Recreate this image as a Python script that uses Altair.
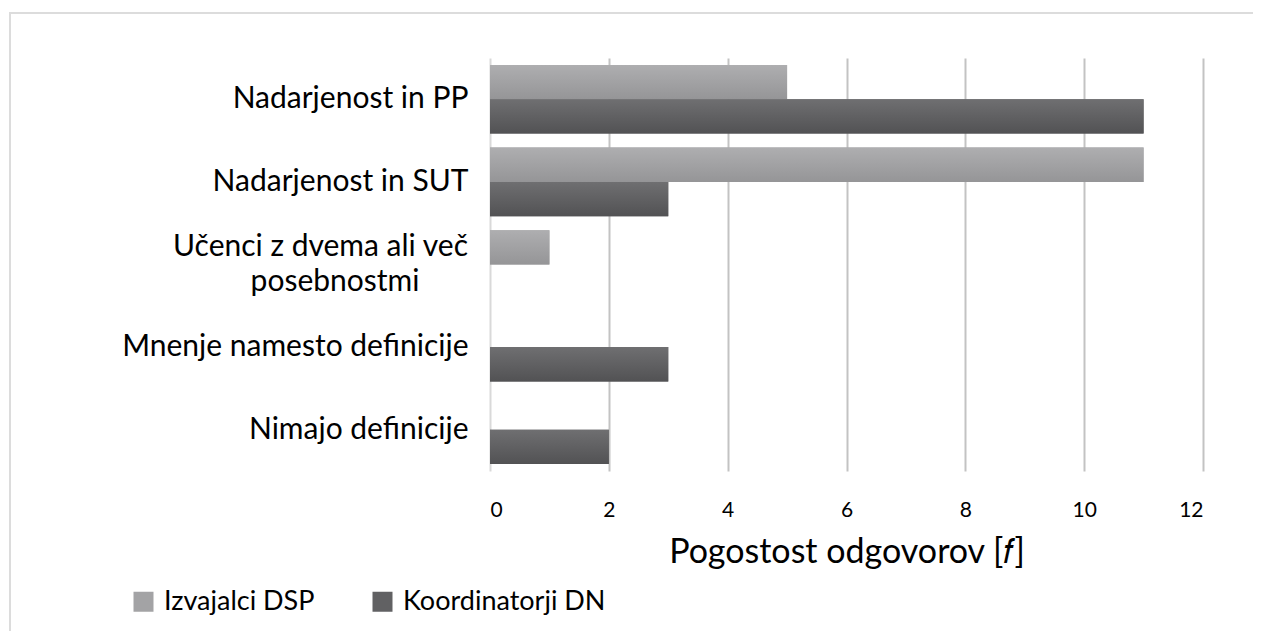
import altair as alt
import pandas as pd

categories = [
    "Nadarjenost in PP",
    "Nadarjenost in SUT",
    "Učenci z dvema ali več posebnostmi",
    "Mnenje namesto definicije",
    "Nimajo definicije",
]
label_line1 = "Učenci z dvema ali več"
label_line2 = "posebnostmi"
series = ["Izvajalci DSP", "Koordinatorji DN"]
izvajalci = [5, 11, 1, 0, 0]
koordinatorji = [11, 3, 0, 3, 2]
x_ticks = [0, 2, 4, 6, 8, 10, 12]
x_title = "Pogostost odgovorov [𝑓]"

df = pd.DataFrame({
    "Kategorija": categories * 2,
    "Skupina": [series[0]] * len(categories) + [series[1]] * len(categories),
    "Vrednost": izvajalci + koordinatorji,
})
df_line1 = pd.DataFrame({"Kategorija": [categories[2]], "Tekst": [label_line1]})
df_line2 = pd.DataFrame({"Kategorija": [categories[2]], "Tekst": [label_line2]})

FONT = "Lato"
CAT_SIZE = 30
label_expr = "datum.label == '" + categories[2] + "' ? '' : datum.label"

x_enc = alt.X(
    "Vrednost:Q",
    scale=alt.Scale(domain=[0, 12], nice=False),
    axis=alt.Axis(
        values=x_ticks, grid=True,
        gridColor=alt.condition("datum.value == 0", alt.value("#d9d9d9"), alt.value("#c3c3c3")),
        gridWidth=2, domain=False, ticks=False,
        labelFont=FONT, labelFontSize=21, labelColor="#000000", labelPadding=28,
        title=x_title, titleFont=FONT, titleFontSize=34, titleFontWeight="normal",
        titleColor="#000000", titlePadding=15,
    ),
)
y_enc = alt.Y(
    "Kategorija:N", sort=categories,
    scale=alt.Scale(paddingInner=0.17, paddingOuter=0.085),
    axis=alt.Axis(
        title=None, domain=False, ticks=False, grid=False,
        labelFont=FONT, labelFontSize=CAT_SIZE, labelColor="#000000",
        labelPadding=22, labelLimit=480,
        labelExpr=label_expr,
    ),
)

base = alt.Chart(df).encode(
    x=x_enc,
    y=y_enc,
    yOffset=alt.YOffset("Skupina:N", sort=series,
                        scale=alt.Scale(paddingInner=0, paddingOuter=0)),
)

legend_layer = base.mark_bar().encode(
    color=alt.Color(
        "Skupina:N",
        scale=alt.Scale(domain=series, range=["#a3a3a5", "#616163"]),
        legend=alt.Legend(
            title=None, orient="none", direction="horizontal",
            legendX=-360, legendY=530,
            symbolType="square", symbolSize=400, symbolStrokeWidth=0,
            labelFont=FONT, labelFontSize=27, labelColor="#000000",
            labelOffset=7, columnPadding=54, labelLimit=400,
        ),
    )
)


def grad(top, bottom):
    return alt.LinearGradient(
        gradient="linear", x1=0, y1=0, x2=0, y2=1,
        stops=[alt.GradientStop(offset=0, color=top),
               alt.GradientStop(offset=1, color=bottom)],
    )


layer_a = base.mark_bar(color=grad("#aeaeb0", "#959597")).transform_filter(
    alt.datum.Skupina == series[0])
layer_b = base.mark_bar(color=grad("#6f6f71", "#525254")).transform_filter(
    alt.datum.Skupina == series[1])

line1_layer = alt.Chart(df_line1).mark_text(
    font=FONT, fontSize=CAT_SIZE, color="#000000", align="right",
    baseline="middle", dy=-17.5,
).encode(
    y=alt.Y("Kategorija:N", sort=categories),
    x=alt.value(-22),
    text="Tekst:N",
)
line2_layer = alt.Chart(df_line2).mark_text(
    font=FONT, fontSize=CAT_SIZE, color="#000000", align="center",
    baseline="middle", dy=17.5,
).encode(
    y=alt.Y("Kategorija:N", sort=categories),
    x=alt.value(-155),
    text="Tekst:N",
)

border = alt.Chart(pd.DataFrame({"b": [0]})).mark_rect(
    fillOpacity=0, stroke="#dcdcdc", strokeWidth=2
).encode(
    x=alt.value(-480), x2=alt.value(900), y=alt.value(-45), y2=alt.value(900)
)

chart = alt.layer(border, legend_layer, layer_a, layer_b, line1_layer, line2_layer).properties(
    width=713, height=413,
    autosize=alt.AutoSizeParams(type="none"),
    padding={"left": 482, "top": 50, "right": 50, "bottom": 160},
).configure_view(stroke=None)

chart.save("out.html", embed_options={"renderer": "svg", "actions": False})
